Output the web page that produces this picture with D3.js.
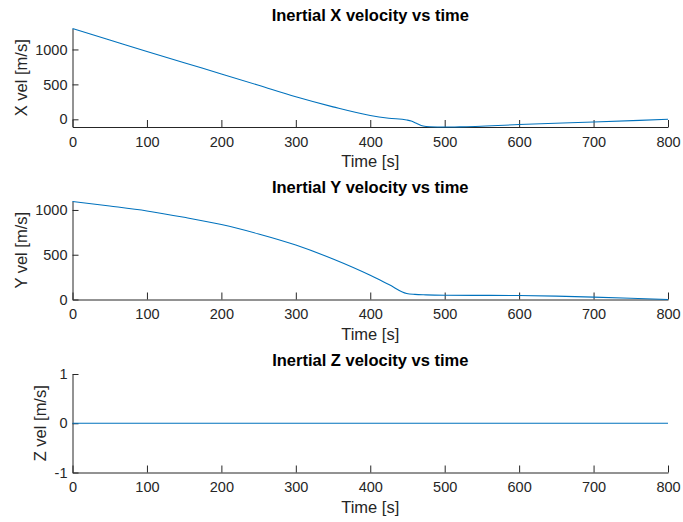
<!DOCTYPE html>
<html>
<head>
<meta charset="utf-8">
<script src="https://cdn.jsdelivr.net/npm/d3@7"></script>
<style>
  body { margin: 0; background: #fff; }
  svg { display: block; }
  text { font-family: "Liberation Sans", Arial, Helvetica, sans-serif; fill: #262626; }
</style>
</head>
<body>
<div id="chart"></div>
<script>
// values
const xTime = [0, 50, 100, 150, 200, 250, 300, 350, 400, 425, 449, 455, 462, 471, 480, 500, 520, 600, 700, 800];
const xVel  = [1300, 1136, 972, 810, 650, 487, 322, 178, 55, 16, -10, -25, -57, -96, -106, -110, -108, -75, -38, 0];

const yTime = [0, 50, 100, 150, 200, 250, 300, 350, 400, 425, 449, 460, 475, 500, 600, 650, 700, 750, 800];
const yVel  = [1095, 1044, 989, 918, 837, 732, 608, 452, 270, 167, 67, 57, 52, 48, 44, 38, 27, 14, 0];

const zTime = [0, 800];
const zVel  = [0, 0];

const timeTicks = [0, 100, 200, 300, 400, 500, 600, 700, 800];
const xVelTicks = [0, 500, 1000];
const yVelTicks = [0, 500, 1000];
const zVelTicks = [-1, 0, 1];

const titles  = ["Inertial X velocity vs time", "Inertial Y velocity vs time", "Inertial Z velocity vs time"];
const yLabels = ["X vel [m/s]", "Y vel [m/s]", "Z vel [m/s]"];
const xLabel  = "Time [s]";

const W = 683, H = 522;
const LEFT = 72.5, RIGHT = 668;
const INK = "#262626", LINE = "#0072BD";

const panels = [
  { time: xTime, vel: xVel, ticks: xVelTicks, domain: [-110, 1300], top: 28.5, bottom: 127,   labelX: 27 },
  { time: yTime, vel: yVel, ticks: yVelTicks, domain: [0, 1100],    top: 201,  bottom: 299.5, labelX: 27 },
  { time: zTime, vel: zVel, ticks: zVelTicks, domain: [-1, 1],      top: 374,  bottom: 472.5, labelX: 46 }
];

const svg = d3.select("#chart").append("svg")
  .attr("width", W)
  .attr("height", H);

const x = d3.scaleLinear().domain([0, 800]).range([LEFT, RIGHT]);
const fmt = d => String(d);

panels.forEach((p, i) => {
  const y = d3.scaleLinear().domain(p.domain).range([p.bottom, p.top]);
  const g = svg.append("g");

  // bottom axis, ticks pointing inward
  const gx = g.append("g")
    .attr("transform", `translate(0,${p.bottom})`)
    .call(d3.axisBottom(x).tickValues(timeTicks).tickFormat(fmt)
      .tickSizeInner(-7).tickSizeOuter(0).tickPadding(9.5));

  // left axis
  const gy = g.append("g")
    .attr("transform", `translate(${LEFT},0)`)
    .call(d3.axisLeft(y).tickValues(p.ticks).tickFormat(fmt)
      .tickSizeInner(-6).tickSizeOuter(0).tickPadding(5));

  [gx, gy].forEach(a => {
    a.attr("font-family", null).attr("font-size", null);
    a.select(".domain").attr("stroke", INK).attr("stroke-width", 1);
    a.selectAll(".tick line").attr("stroke", INK).attr("stroke-width", 1);
    a.selectAll(".tick text").style("font-size", "14.5px").attr("fill", INK);
  });

  // data line
  const pts = p.time.map((t, k) => [t, p.vel[k]]);
  g.append("path")
    .datum(pts)
    .attr("fill", "none")
    .attr("stroke", LINE)
    .attr("stroke-width", 1.1)
    .attr("d", d3.line().curve(d3.curveMonotoneX).x(d => x(d[0])).y(d => y(d[1])));

  // title
  g.append("text")
    .attr("x", (LEFT + RIGHT) / 2)
    .attr("y", p.top - 8)
    .attr("text-anchor", "middle")
    .style("font-size", "16.5px")
    .style("font-weight", "bold")
    .style("fill", "#000")
    .text(titles[i]);

  // x label
  g.append("text")
    .attr("x", (LEFT + RIGHT) / 2)
    .attr("y", p.bottom + 40)
    .attr("text-anchor", "middle")
    .style("font-size", "16.5px")
    .text(xLabel);

  // y label
  g.append("text")
    .attr("transform", `translate(${p.labelX},${(p.top + p.bottom) / 2}) rotate(-90)`)
    .attr("text-anchor", "middle")
    .style("font-size", "16.5px")
    .text(yLabels[i]);
});
</script>
</body>
</html>
